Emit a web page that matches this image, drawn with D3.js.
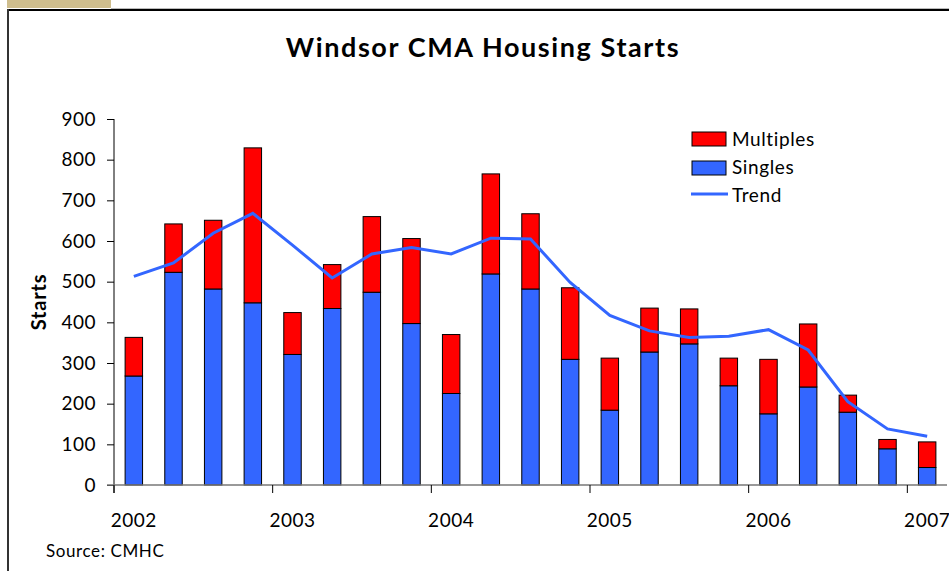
<!DOCTYPE html>
<html>
<head>
<meta charset="utf-8">
<script src="https://cdn.jsdelivr.net/npm/d3@7"></script>
<style>
  body { margin: 0; background: #fff; }
  svg { display: block; font-family: Lato, "Open Sans", sans-serif; }
</style>
</head>
<body>
<script>
(function(){
   var width = 949;
   var height = 571;

   // quarterly housing starts, 2002 Q1 .. 2007 Q1
   var quarters = ["2002Q1","2002Q2","2002Q3","2002Q4","2003Q1","2003Q2","2003Q3","2003Q4",
                   "2004Q1","2004Q2","2004Q3","2004Q4","2005Q1","2005Q2","2005Q3","2005Q4",
                   "2006Q1","2006Q2","2006Q3","2006Q4","2007Q1"];
   var singles = [268, 523, 482, 448, 321, 434, 474, 397, 225, 519, 482, 309, 184, 327, 347, 244, 175, 241, 179, 89, 43];
   var multiples = [95, 119, 169, 381, 103, 108, 186, 209, 145, 246, 185, 176, 128, 108, 86, 68, 134, 155, 42, 23, 63];
   var trend = [513, 546, 619, 668, 590, 509, 568, 584, 568, 607, 605, 498, 417, 379, 363, 366, 382, 332, 205, 138, 120];
   var yearLabels = ["2002","2003","2004","2005","2006","2007"];
   var yTicks = [0, 100, 200, 300, 400, 500, 600, 700, 800, 900];

   var left = 114, right = 947, top = 119, bottom = 485;

   var svg = d3.select("body").append("svg")
       .attr("width", width)
       .attr("height", height);

   // frame decoration
   svg.append("rect").attr("x", 7).attr("y", 0).attr("width", 104).attr("height", 8).attr("fill", "#cfbe8e");
   svg.append("line").attr("x1", 111).attr("x2", width).attr("y1", 8.5).attr("y2", 8.5).attr("stroke", "#bbb");
   svg.append("line").attr("x1", 7).attr("x2", width).attr("y1", 10).attr("y2", 10).attr("stroke", "#000").attr("stroke-width", 2);
   svg.append("line").attr("x1", 8).attr("x2", 8).attr("y1", 9).attr("y2", height).attr("stroke", "#333").attr("stroke-width", 2);

   svg.append("text")
       .attr("x", 483).attr("y", 57)
       .attr("text-anchor", "middle")
       .attr("font-weight", "bold")
       .attr("font-size", 27)
       .attr("letter-spacing", 1.6)
       .text("Windsor CMA Housing Starts");

   let xScale = d3.scaleBand()
       .domain(quarters)
       .range([left, right])
       .paddingInner(0.56)
       .paddingOuter(0.28);
   let yScale = d3.scaleLinear()
       .domain([0, 900])
       .range([bottom, top]);

   let bw = xScale.bandwidth();
   let step = xScale.step();
   let center = (q) => xScale(q) + bw / 2;

   // bars: singles at the bottom, multiples stacked above
   let stackData = quarters.map((q, i) => ({ q: q, singles: singles[i], multiples: multiples[i] }));
   let series = d3.stack().keys(["singles", "multiples"])(stackData);
   let colors = { singles: "#3366ff", multiples: "#ff0000" };

   svg.append("g").selectAll("g")
       .data(series)
       .join("g")
       .attr("fill", (s) => colors[s.key])
       .selectAll("rect")
       .data((s) => s)
       .join("rect")
       .attr("x", (d) => xScale(d.data.q))
       .attr("y", (d) => yScale(d[1]))
       .attr("width", bw)
       .attr("height", (d) => yScale(d[0]) - yScale(d[1]))
       .attr("stroke", "#000")
       .attr("stroke-width", 1);

   // trend line
   let linefunc = d3.line()
       .x((d, i) => center(quarters[i]))
       .y((d) => yScale(d));
   svg.append("path")
       .attr("d", linefunc(trend))
       .attr("stroke", "#3366ff")
       .attr("stroke-width", 3)
       .attr("fill", "none");

   // y axis
   let yAxis = d3.axisLeft(yScale).tickValues(yTicks).tickSize(7).tickFormat(d3.format("d"));
   let gy = svg.append("g").attr("transform", "translate(" + left + ",0)").call(yAxis);
   gy.select(".domain").attr("d", "M0," + top + "V" + (bottom + 8)).attr("stroke", "#000");
   gy.selectAll(".tick line").attr("stroke", "#000");
   gy.selectAll("text").attr("font-size", 19).attr("x", -18).attr("fill", "#000")
       .attr("font-family", "Lato, sans-serif").attr("letter-spacing", 0.5);

   // x axis: baseline, year ticks
   svg.append("line")
       .attr("x1", left - 7).attr("x2", right)
       .attr("y1", bottom).attr("y2", bottom)
       .attr("stroke", "#777").attr("stroke-width", 1.5);
   let yearIdx = yearLabels.map((y, i) => i * 4);
   svg.append("g").selectAll("line")
       .data(yearIdx)
       .join("line")
       .attr("x1", (i) => xScale(quarters[i]) - (step - bw) / 2)
       .attr("x2", (i) => xScale(quarters[i]) - (step - bw) / 2)
       .attr("y1", bottom).attr("y2", bottom + 8)
       .attr("stroke", "#000");
   svg.append("g").selectAll("text")
       .data(yearLabels)
       .join("text")
       .attr("x", (d, i) => center(quarters[i * 4]))
       .attr("y", 527)
       .attr("text-anchor", "middle")
       .attr("font-size", 19)
       .attr("letter-spacing", 0.5)
       .text((d) => d);

   // y label
   svg.append("text")
       .attr("transform", "translate(46,302) rotate(-90)")
       .attr("text-anchor", "middle")
       .attr("font-weight", "bold")
       .attr("font-size", 20)
       .attr("letter-spacing", 0.8)
       .text("Starts");

   svg.append("text")
       .attr("x", 46).attr("y", 557)
       .attr("font-size", 17)
       .attr("letter-spacing", 0.6)
       .text("Source: CMHC");

   // legend
   let legend = svg.append("g").attr("transform", "translate(692,0)");
   legend.append("rect").attr("x", 0).attr("y", 132).attr("width", 34).attr("height", 14)
       .attr("fill", colors.multiples).attr("stroke", "#000");
   legend.append("rect").attr("x", 0).attr("y", 161).attr("width", 34).attr("height", 14)
       .attr("fill", colors.singles).attr("stroke", "#000");
   legend.append("line").attr("x1", -1).attr("x2", 36).attr("y1", 194).attr("y2", 194)
       .attr("stroke", "#3366ff").attr("stroke-width", 3);
   let legendText = ["Multiples", "Singles", "Trend"];
   legend.selectAll("text.lg")
       .data(legendText)
       .join("text")
       .attr("class", "lg")
       .attr("x", 40)
       .attr("y", (d, i) => 146 + i * 28)
       .attr("font-size", 19)
       .attr("letter-spacing", 0.6)
       .text((d) => d);
})();
</script>
</body>
</html>
